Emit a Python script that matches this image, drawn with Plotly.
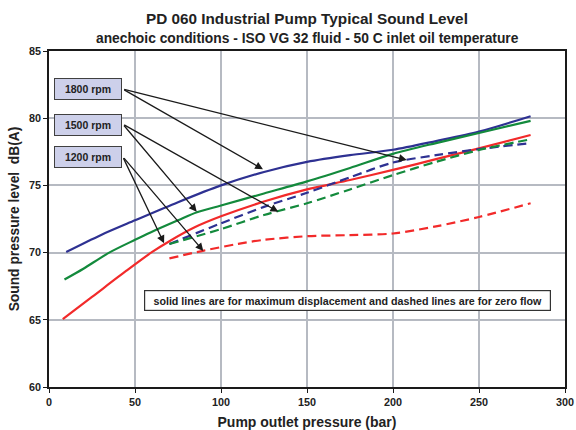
import plotly.graph_objects as go

# pump outlet pressure (bar) and sound pressure level dB(A)
x_1800_max = [10, 30, 50, 75, 100, 125, 150, 175, 200, 225, 250, 280]
y_1800_max = [70.05, 71.3, 72.4, 73.75, 75.0, 76.0, 76.75, 77.25, 77.65, 78.3, 79.0, 80.15]

x_1500_max = [9, 20, 35, 50, 59, 75, 86, 100, 125, 150, 175, 200, 225, 250, 280]
y_1500_max = [68.0, 68.8, 70.0, 70.95, 71.5, 72.4, 73.0, 73.5, 74.4, 75.3, 76.3, 77.35, 78.15, 78.9, 79.8]

x_1200_max = [8, 25, 45, 60, 70, 85, 100, 125, 150, 175, 200, 225, 250, 280]
y_1200_max = [65.05, 66.7, 68.65, 70.05, 70.85, 71.9, 72.7, 73.8, 74.7, 75.4, 76.15, 76.95, 77.75, 78.75]

x_1800_zero = [70, 100, 125, 150, 175, 200, 225, 250, 280]
y_1800_zero = [70.64, 72.18, 73.4, 74.45, 75.6, 76.7, 77.25, 77.7, 78.15]

x_1500_zero = [70, 100, 125, 150, 175, 200, 225, 250, 280]
y_1500_zero = [70.64, 71.75, 72.8, 73.67, 74.7, 75.77, 76.75, 77.63, 78.43]

x_1200_zero = [70, 90, 110, 125, 150, 175, 200, 225, 250, 280]
y_1200_zero = [69.57, 70.15, 70.65, 70.95, 71.22, 71.3, 71.42, 71.95, 72.65, 73.67]

rpm_labels = ["1800 rpm", "1500 rpm", "1200 rpm"]

BLUE = "#2e3192"
GREEN = "#138a3c"
RED = "#f22a2a"
FONT = "Liberation Sans, Arial, sans-serif"

fig = go.Figure()

series = [
    (x_1800_max, y_1800_max, BLUE, "solid"),
    (x_1500_max, y_1500_max, GREEN, "solid"),
    (x_1200_max, y_1200_max, RED, "solid"),
    (x_1800_zero, y_1800_zero, BLUE, "9px,5px"),
    (x_1500_zero, y_1500_zero, GREEN, "9px,5px"),
    (x_1200_zero, y_1200_zero, RED, "9px,5px"),
]
for xs, ys, col, dash in series:
    fig.add_trace(go.Scatter(x=xs, y=ys, mode="lines",
                             line=dict(color=col, width=2.2, dash=dash, shape="spline", smoothing=0.8),
                             showlegend=False, hoverinfo="skip"))

# label boxes and arrows
box_y = [82.17, 79.53, 77.11]
arrow_tail_y = [82.17, 79.57, 77.14]
arrow_heads = [
    [(124.4, 76.2), (208, 76.89)],
    [(85.9, 73.04), (133.3, 73.04)],
    [(66.9, 70.69), (89.7, 70.12)],
]
for lab, by, ty, heads in zip(rpm_labels, box_y, arrow_tail_y, arrow_heads):
    for hx, hy in heads:
        fig.add_annotation(x=hx, y=hy, ax=42.85, ay=ty, xref="x", yref="y",
                           axref="x", ayref="y", text="", showarrow=True,
                           arrowhead=2, arrowsize=1.2, arrowwidth=1.3, arrowcolor="#1a1a1a")
    fig.add_annotation(x=22.4, y=by, xref="x", yref="y", text="<b>%s</b>" % lab,
                       showarrow=False, width=64, height=18, borderpad=1,
                       bgcolor="#cdd0ea", bordercolor="#404040", borderwidth=1,
                       font=dict(family=FONT, size=10.5, color="#222222"))

fig.add_annotation(x=173.3, y=66.47, xref="x", yref="y",
                   text="<b>solid lines are for maximum displacement and dashed lines are for zero flow</b>",
                   showarrow=False, width=403, height=17, borderpad=1,
                   bgcolor="white", bordercolor="#333333", borderwidth=1.2,
                   font=dict(family=FONT, size=10.7, color="#222222"))

# titles
fig.add_annotation(x=0.5, y=1, xref="paper", yref="paper", yshift=33, yanchor="middle",
                   text="<b>PD 060 Industrial Pump Typical Sound Level</b>", showarrow=False,
                   font=dict(family=FONT, size=15.3, color="#222222"))
fig.add_annotation(x=0.5, y=1, xref="paper", yref="paper", yshift=13, yanchor="middle",
                   text="<b>anechoic conditions - ISO VG 32 fluid - 50 C inlet oil temperature</b>",
                   showarrow=False, font=dict(family=FONT, size=13.8, color="#222222"))

axis_common = dict(showline=True, linecolor="#1a1a1a", linewidth=1.5, mirror=True,
                   showgrid=True, gridcolor="#b6bac2", gridwidth=1.5, zeroline=False,
                   ticks="outside", ticklen=4, tickcolor="#1a1a1a", automargin=False,
                   tickfont=dict(family=FONT, size=10.8, color="#222222"))

fig.update_xaxes(range=[0, 300], dtick=50, tickprefix="<b>", ticksuffix="</b>",
                 title=dict(text="<b>Pump outlet pressure (bar)</b>", standoff=14,
                            font=dict(family=FONT, size=14, color="#222222")),
                 **axis_common)
fig.update_yaxes(range=[60, 85], dtick=5, tickprefix="<b>", ticksuffix="</b>",
                 title=dict(text="<b>Sound pressure level  dB(A)</b>", standoff=6,
                            font=dict(family=FONT, size=13.8, color="#222222")),
                 **axis_common)

fig.update_layout(width=576, height=430, margin=dict(l=49, r=11, t=51, b=43),
                  paper_bgcolor="white", plot_bgcolor="white")

# page body has an 8px default margin; drop it so the figure sits at 0,0
fig.write_html("out.html", config={"displayModeBar": False},
               post_script="document.body.style.margin='0';")
